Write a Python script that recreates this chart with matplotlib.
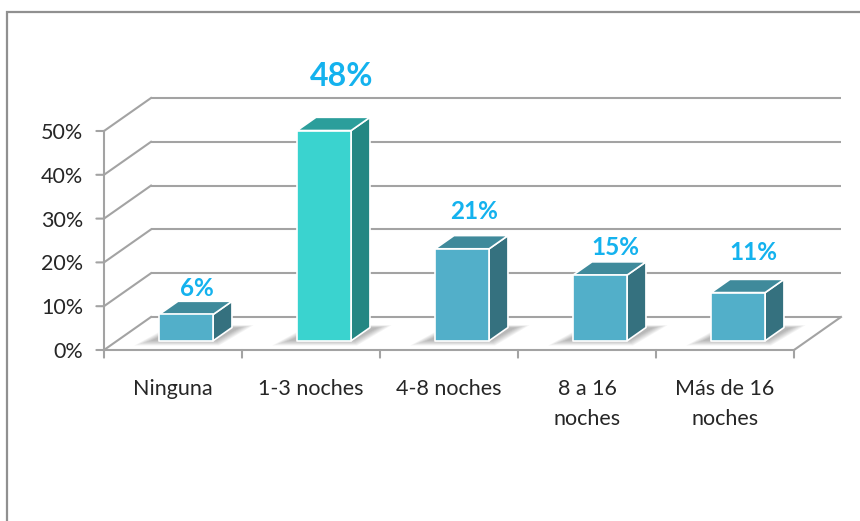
import matplotlib
matplotlib.use("Agg")
import matplotlib.pyplot as plt
from matplotlib.patches import Polygon, Rectangle
import numpy as np

# ---- data ----
categories = ["Ninguna", "1-3 noches", "4-8 noches", "8 a 16\nnoches", "Más de 16\nnoches"]
values = [6, 48, 21, 15, 11]
value_labels = ["6%", "48%", "21%", "15%", "11%"]
yticks = [0, 10, 20, 30, 40, 50]
ytick_labels = ["0%", "10%", "20%", "30%", "40%", "50%"]
highlight = [False, True, False, False, False]

# ---- styles / layout ----
label_offsets = [(1, 14), (6, 34), (2, 22), (4, 15), (4, 24)]  # points
label_sizes = [17.5, 23, 17.5, 17.5, 17.5]
FONT = "Lato"
GRID = "#a3a3a3"
LBLCOL = "#14b2ee"
TXT = "#262626"
front_n, side_n, top_n = "#52afc9", "#35717f", "#3f8a9b"
front_h, side_h, top_h = "#3ad3cf", "#248783", "#2b9e9b"

W, H = 860, 521
fig = plt.figure(figsize=(W / 100, H / 100), dpi=100)
ax = fig.add_axes([104 / W, (H - 350) / H, 690 / W, 219 / H])
ax.set_xlim(-0.5, len(categories) - 0.5)
ax.set_ylim(0, 50)
ax.axis("off")

# oblique depth offset (full depth) in data units
DX = 47 / 138.0
DY = 33 / 4.38
def P(x, y, d):
    return (x + d * DX, y + d * DY)

x0, x1 = -0.5, len(categories) - 0.5

# back wall gridlines and side wall lines
for v in yticks:
    ax.plot(*zip(P(x0, v, 1), P(x1, v, 1)), color=GRID, lw=1.5, clip_on=False, zorder=1,
            solid_capstyle="butt")
    ax.plot(*zip(P(x0, v, 0), P(x0, v, 1)), color=GRID, lw=1.5, clip_on=False, zorder=1)
# floor edges
ax.plot(*zip(P(x0, 0, 0), P(x1, 0, 0)), color=GRID, lw=1.5, clip_on=False, zorder=1)
ax.plot(*zip(P(x1, 0, 0), P(x1, 0, 1)), color=GRID, lw=1.5, clip_on=False, zorder=1)
# front vertical axis
ax.plot([x0, x0], [0, 50], color=GRID, lw=1.5, clip_on=False, zorder=2)

# y ticks and labels
for v, t in zip(yticks, ytick_labels):
    ax.annotate("", xy=(x0, v), xytext=(-5.5, 0), textcoords="offset points",
                arrowprops=dict(arrowstyle="-", color=GRID, lw=1.5, shrinkA=0, shrinkB=0),
                annotation_clip=False)
    ax.annotate(t, xy=(x0, v), xytext=(-15, -1.5), textcoords="offset points",
                ha="right", va="center", fontsize=15.5, family=FONT, color=TXT,
                annotation_clip=False)

# category ticks
for b in np.arange(len(categories) + 1) - 0.5:
    ax.annotate("", xy=(b, 0), xytext=(0, -5.5), textcoords="offset points",
                arrowprops=dict(arrowstyle="-", color=GRID, lw=1.5, shrinkA=0, shrinkB=0),
                annotation_clip=False)
# category labels
for i, c in enumerate(categories):
    ax.annotate(c, xy=(i, 0), xytext=(0, -21), textcoords="offset points",
                ha="center", va="top", fontsize=15.5, family=FONT, color=TXT,
                linespacing=1.6, annotation_clip=False)

# bars
BW = 54 / 138.0
d0, d1 = 0.28, 0.68
for i, (v, hl) in enumerate(zip(values, highlight)):
    fc, sc, tc = (front_h, side_h, top_h) if hl else (front_n, side_n, top_n)
    xl, xr = i - BW / 2, i + BW / 2
    # shadow on floor
    for k in range(7):
        e = 0.012 * k
        sh = [P(xl - e - 0.06, 0, d0 - e * 2), P(xr + e + 0.02, 0, d0 - e * 2),
              P(xr + e + 0.06, 0, d1 + e), P(xl - e + 0.0, 0, d1 + e)]
        ax.add_patch(Polygon(sh, closed=True, fc="#000000", ec="none", alpha=0.045,
                             zorder=3, clip_on=False))
    front = [P(xl, 0, d0), P(xr, 0, d0), P(xr, v, d0), P(xl, v, d0)]
    side = [P(xr, 0, d0), P(xr, 0, d1), P(xr, v, d1), P(xr, v, d0)]
    top = [P(xl, v, d0), P(xr, v, d0), P(xr, v, d1), P(xl, v, d1)]
    for poly, col in ((side, sc), (top, tc), (front, fc)):
        ax.add_patch(Polygon(poly, closed=True, fc=col, ec="white", lw=1.2,
                             joinstyle="round", zorder=4, clip_on=False))
    # value label
    cx, cy = P(i, v, (d0 + d1) / 2)
    ax.annotate(value_labels[i], xy=(cx, cy), xytext=label_offsets[i],
                textcoords="offset points", ha="center", va="center",
                fontsize=label_sizes[i], fontweight="bold", family=FONT, color=LBLCOL,
                annotation_clip=False, zorder=6)

# outer frame (chart area border)
fig.add_artist(Rectangle((6.5 / W, -0.1), 1.2, 1.1 - 11.5 / H, transform=fig.transFigure,
                         fill=False, ec="#909090", lw=1.6))

fig.savefig("out.png", dpi=100, facecolor="white")
